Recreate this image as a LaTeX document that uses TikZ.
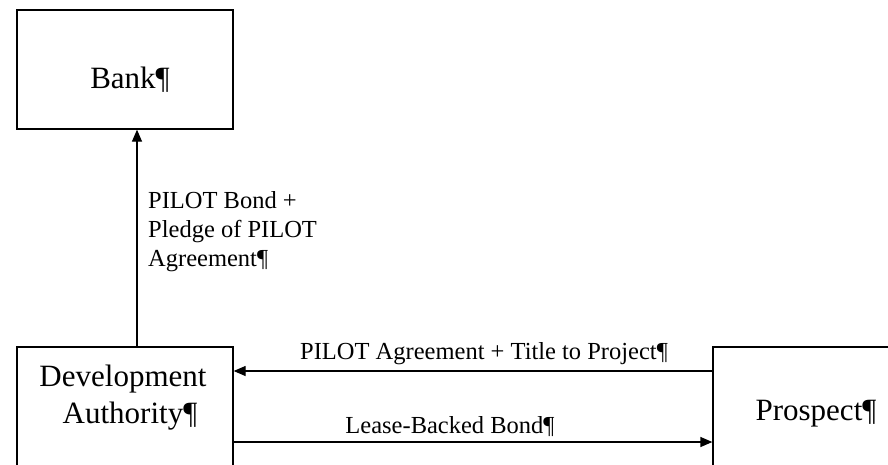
\documentclass[tikz,border=0pt]{standalone}
\usepackage{fontspec}
\setmainfont{Liberation Serif}
\usetikzlibrary{arrows.meta}
\tikzset{
  boxnode/.style={draw, line width=1.3pt, minimum width=216pt, inner sep=0pt},
  boxtext/.style={font=\fontsize{31}{37}\selectfont, inner sep=0pt, anchor=base},
  lbltext/.style={font=\fontsize{24.5}{29}\selectfont, inner sep=0pt},
  arr/.style={line width=1.3pt, -{Triangle[length=12pt,width=10pt]}}
}
\begin{document}
\begin{tikzpicture}[x=1pt,y=-1pt]
\useasboundingbox (0,0) rectangle (888,464);
\clip (0,0) rectangle (888,464);
% boxes
\node[boxnode, minimum height=119pt] (bank) at (125,69.5) {};
\node[boxnode, minimum height=160pt] (da) at (125,427) {};
\node[boxnode, minimum width=200pt, minimum height=160pt] (pr) at (813,427) {};
% box texts
\node[boxtext] (banktxt) at (130,88) {Bank¶};
\node[boxtext] (datxt1) at (123,386) {Development};
\node[boxtext] (datxt2) at (130,423) {Authority¶};
\node[boxtext] (prtxt) at (816,420) {Prospect¶};
% connector rows
\coordinate (upx) at (137,0);
\coordinate (row1) at (0,371);
\coordinate (row2) at (0,442);
\draw[arr] (da.north -| upx) -- (bank.south -| upx);
\draw[arr] (pr.west |- row1) -- (da.east |- row1);
\draw[arr] (da.east |- row2) -- (pr.west |- row2);
% labels
\node[lbltext, anchor=north west, align=left] (lblup) at (148,191) {PILOT Bond +\\Pledge of PILOT\\Agreement¶};
\node[lbltext, anchor=base] (lblpa) at (484,359) {PILOT Agreement + Title to Project¶};
\node[lbltext, anchor=base] (lbllb) at (450,433) {Lease-Backed Bond¶};
\end{tikzpicture}
\end{document}
